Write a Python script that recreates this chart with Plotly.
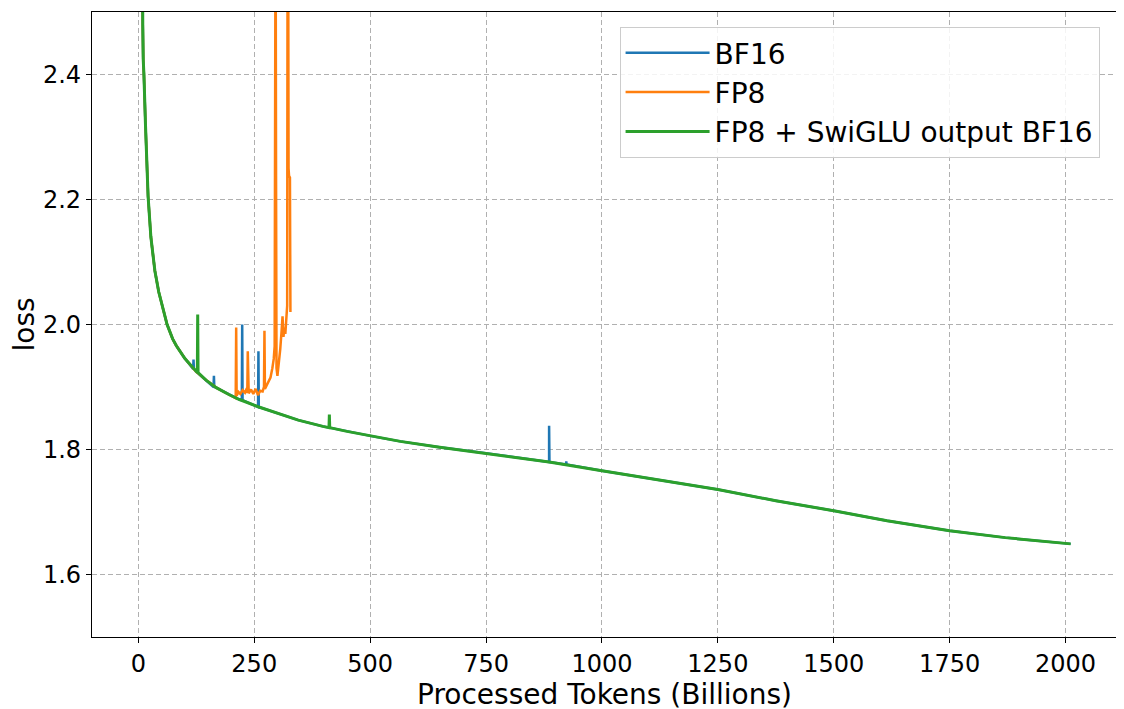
import plotly.graph_objects as go

# shared loss curve (all three runs follow it closely)
BASE_X = [6, 8, 9.5, 10.5, 12, 15.5, 21, 27, 35.6, 44, 53.5, 62, 74, 82, 100,
          114, 124, 146, 168, 195, 218, 260, 297, 345, 398, 450, 506, 565,
          650, 750, 830, 886, 1000, 1125, 1250, 1375, 1500, 1615, 1750, 1870,
          2000, 2011]
BASE_Y = [3.1, 2.6, 2.48, 2.424, 2.4, 2.317, 2.205, 2.14, 2.086, 2.052, 2.023,
          2.0, 1.977, 1.966, 1.946, 1.934, 1.925, 1.911, 1.899, 1.888, 1.88,
          1.868, 1.859, 1.847, 1.837, 1.829, 1.821, 1.813, 1.8035, 1.794,
          1.786, 1.78, 1.766, 1.751, 1.736, 1.718, 1.702, 1.686, 1.67, 1.659,
          1.65, 1.649]

# BF16 spikes: position, peak, local curve level
BF16_SPIKE_X = [119, 163, 224, 259, 886, 923]
BF16_SPIKE_TOP = [1.944, 1.918, 2.0, 1.957, 1.838, 1.781]
BF16_SPIKE_FOOT = [1.929, 1.9, 1.879, 1.868, 1.78, 1.776]

# FP8 + SwiGLU output BF16 spikes
GREEN_SPIKE_X = [128, 412]
GREEN_SPIKE_TOP = [2.016, 1.856]
GREEN_SPIKE_FOOT = [1.923, 1.835]

# FP8 run: follows the curve up to ~205B tokens, then diverges
FP8_SPLIT_X = 205
FP8_TAIL_X = [209, 210, 211, 212, 216, 220, 225, 230, 234, 235, 236, 237, 238,
              243, 248, 253, 258, 263, 268, 271, 272, 273, 277, 281, 285, 289,
              292, 294, 295, 296, 297, 298, 300, 303, 306, 309, 311, 313, 315,
              317, 319, 321, 322, 323, 324, 325, 327, 328]
FP8_TAIL_Y = [1.882, 1.882, 1.995, 1.886, 1.892, 1.889, 1.895, 1.891, 1.898,
              1.89, 1.957, 1.892, 1.89, 1.896, 1.889, 1.897, 1.887, 1.894, 1.893,
              1.9, 1.99, 1.897, 1.903, 1.908, 1.915, 1.93, 1.945, 1.965, 2.7,
              2.7, 2.237, 1.93, 1.918, 1.935, 1.96, 1.99, 2.013, 1.98, 1.995,
              1.985, 2.01, 2.03, 2.7, 2.7, 2.25, 2.238, 2.235, 2.02]

COLORS = ['#1f77b4', '#ff7f0e', '#2ca02c']
NAMES = ['BF16', 'FP8', 'FP8 + SwiGLU output BF16']
WIDTHS = [2.5, 2.5, 3]


def with_spikes(xs, ys, spike_x, spike_top, spike_foot):
    """Merge narrow spikes into the base curve."""
    pts = list(zip(xs, ys))
    for sx, top, foot in zip(spike_x, spike_top, spike_foot):
        pts += [(sx - 0.8, foot), (sx, top), (sx + 0.8, foot)]
    pts.sort()
    return [p[0] for p in pts], [p[1] for p in pts]


bf16_x, bf16_y = with_spikes(BASE_X, BASE_Y, BF16_SPIKE_X, BF16_SPIKE_TOP,
                             BF16_SPIKE_FOOT)
green_x, green_y = with_spikes(BASE_X, BASE_Y, GREEN_SPIKE_X, GREEN_SPIKE_TOP,
                               GREEN_SPIKE_FOOT)
fp8_x = [x for x in BASE_X if x <= FP8_SPLIT_X] + FP8_TAIL_X
fp8_y = [y for x, y in zip(BASE_X, BASE_Y) if x <= FP8_SPLIT_X] + FP8_TAIL_Y

fig = go.Figure()
for xs, ys, name, color, width in zip(
    [bf16_x, fp8_x, green_x], [bf16_y, fp8_y, green_y], NAMES, COLORS, WIDTHS
):
    fig.add_trace(go.Scatter(
        x=xs, y=ys, name=name, mode='lines',
        line=dict(color=color, width=width)
    ))

axis_style = dict(
    showline=True, linecolor='black', linewidth=1.2, mirror=True,
    ticks='outside', ticklen=5, tickcolor='black',
    showgrid=True, gridcolor='#b0b0b0', griddash='5px,3px', gridwidth=1,
    zeroline=False, tickfont=dict(size=24, color='black'), automargin=False,
)

fig.update_xaxes(range=[-100, 2111], dtick=250, tick0=0,
                 title=dict(text='Processed Tokens (Billions)',
                            font=dict(size=28, color='black'), standoff=2),
                 **axis_style)
fig.update_yaxes(range=[1.5, 2.5], dtick=0.2, tick0=0, tickformat='.1f',
                 title=dict(text='loss', font=dict(size=28, color='black'),
                            standoff=8),
                 **axis_style)

# the page body adds an 8px offset, so margins are shifted to compensate
fig.update_layout(
    width=1124, height=709,
    margin=dict(l=84, r=15, t=4, b=80),
    paper_bgcolor='white', plot_bgcolor='white',
    font=dict(family='DejaVu Sans', color='black'),
    legend=dict(
        x=0.983, y=0.976, xanchor='right', yanchor='top',
        font=dict(size=28), bgcolor='rgba(255,255,255,0.85)',
        bordercolor='#cccccc', borderwidth=1, tracegroupgap=0,
        itemwidth=84,
    ),
    showlegend=True,
)

fig.write_html('out.html')
